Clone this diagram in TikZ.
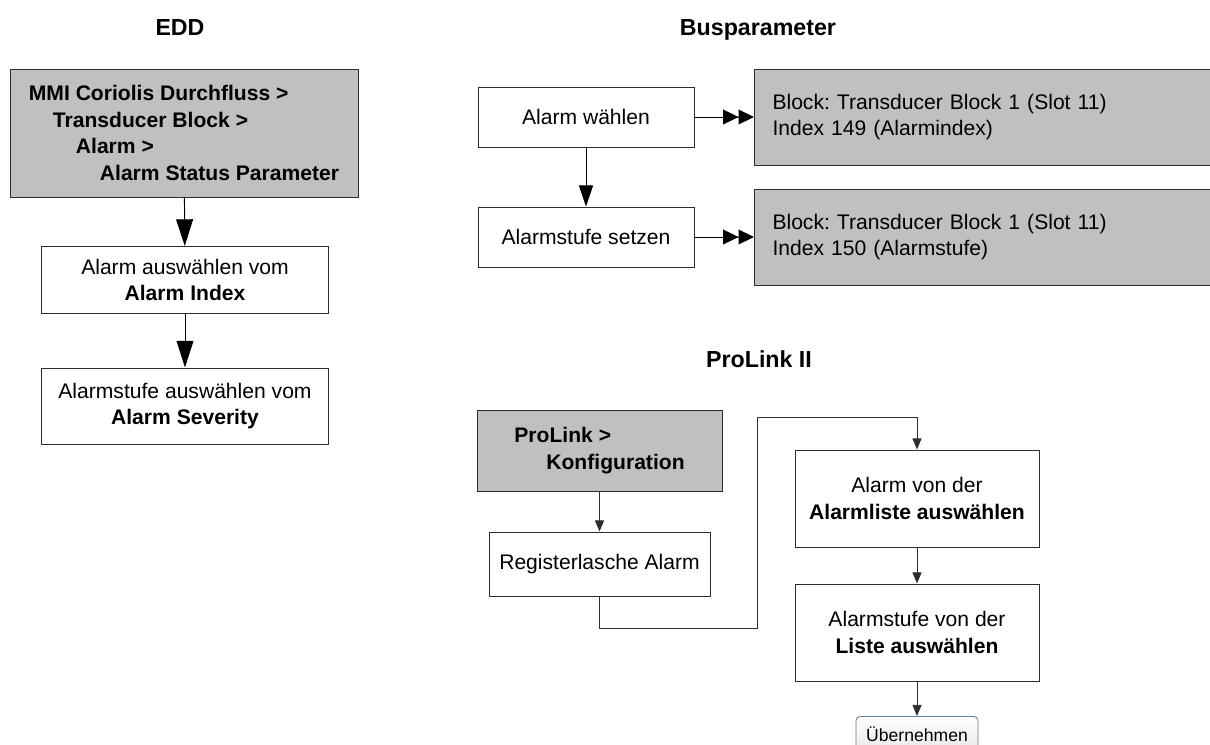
\documentclass[tikz,border=0pt]{standalone}
\usepackage{fontspec}
\setmainfont{Liberation Sans}
\usepackage{xcolor}
\definecolor{boxgray}{RGB}{192,192,192}
\definecolor{lineg}{RGB}{45,45,45}
\definecolor{btnblue}{RGB}{95,125,165}
\definecolor{btnfill}{RGB}{232,232,232}
\newlength\unitpx
\setlength\unitpx{0.025cm}
\usetikzlibrary{arrows.meta}
\frenchspacing

\begin{document}
\begin{tikzpicture}[
  x=0.025cm,y=-0.025cm,
  title/.style={anchor=base,font=\fontsize{16.5}{20}\selectfont\bfseries},
  gbox/.style={rectangle,draw=lineg,line width=0.7pt,fill=boxgray,inner sep=0pt,align=left,font=\fontsize{15}{19}\selectfont},
  wbox/.style={rectangle,draw=lineg,line width=0.7pt,fill=white,inner sep=0pt,align=center,font=\fontsize{15}{19}\selectfont},
  btn/.style={rectangle,rounded corners=3pt,draw=btnblue,line width=0.6pt,top color=white,bottom color=btnfill,inner sep=0pt,font=\fontsize{12.5}{14}\selectfont},
  bigarr/.style={-{Triangle[length=19pt,width=12pt]},line width=0.7pt},
  midarr/.style={-{Triangle[length=15pt,width=10pt]},line width=0.7pt},
  dblarr/.style={-{Triangle[length=11pt,width=10.5pt]Triangle[length=11pt,width=10.5pt]},line width=0.7pt},
  smallarr/.style={-{Triangle[length=8pt,width=6.5pt]},line width=0.7pt,draw=lineg}
]
  \useasboundingbox (0,0) rectangle (1210,744);
  \clip (0,0) rectangle (1210,744);

  % Titles
  \node[title] (tedd) at (180,35) {EDD};
  \node[title] (tbus) at (758,35) {Busparameter};
  \node[title] (tpl) at (759,367) {ProLink II};

  % EDD
  \node[gbox,font=\fontsize{15}{19}\selectfont\bfseries,minimum width=348\unitpx,minimum height=128\unitpx] (edd) at (184,133)
    {MMI Coriolis Durchfluss >\\\hspace*{24\unitpx}Transducer Block >\\\hspace*{47\unitpx}Alarm >\\\hspace*{71\unitpx}Alarm Status Parameter};
  \node[wbox,minimum width=287\unitpx,minimum height=67\unitpx] (idx) at (185,280)
    {Alarm auswählen vom\\\textbf{Alarm Index}};
  \node[wbox,minimum width=287\unitpx,minimum height=76\unitpx] (sev) at (185,406)
    {Alarmstufe auswählen vom\\\textbf{Alarm Severity}};

  \draw[bigarr] (edd) -- (idx);
  \draw[bigarr] (idx) -- (sev);

  % Busparameter
  \node[wbox,minimum width=216\unitpx,minimum height=60\unitpx] (wahl) at (586,117) {Alarm wählen};
  \node[wbox,minimum width=216\unitpx,minimum height=60\unitpx] (setz) at (586,237) {Alarmstufe setzen};
  \node[gbox,anchor=west,text width=440\unitpx,inner xsep=18\unitpx,minimum height=96\unitpx] (blk1) at (754,117)
    {Block: Transducer Block 1 (Slot 11)\\Index 149 (Alarmindex)};
  \node[gbox,anchor=west,text width=440\unitpx,inner xsep=18\unitpx,minimum height=96\unitpx] (blk2) at (754,237)
    {Block: Transducer Block 1 (Slot 11)\\Index 150 (Alarmstufe)};

  \draw[midarr] (wahl) -- (setz);
  \draw[dblarr] (wahl) -- (blk1);
  \draw[dblarr] (setz) -- (blk2);

  % ProLink II
  \node[gbox,font=\fontsize{15}{19}\selectfont\bfseries,minimum width=245\unitpx,minimum height=81\unitpx] (pl) at (599.5,450.5)
    {ProLink >\\\hspace*{32\unitpx}Konfiguration};
  \node[wbox,minimum width=221\unitpx,minimum height=64\unitpx] (reg) at (599.5,564) {Registerlasche Alarm};
  \node[wbox,minimum width=244\unitpx,minimum height=97\unitpx] (alsel) at (917,498.5)
    {Alarm von der\\\textbf{Alarmliste auswählen}};
  \node[wbox,minimum width=244\unitpx,minimum height=97\unitpx] (stsel) at (917,632.5)
    {Alarmstufe von der\\\textbf{Liste auswählen}};
  \node[btn,anchor=north,minimum width=122\unitpx,minimum height=36\unitpx] (ok) at (917,716) {Übernehmen};
  \coordinate (turn) at (757,628);
  \coordinate (top) at (757,417);

  \draw[smallarr] (pl) -- (reg);
  \draw[smallarr] (reg.south) |- (turn) -- (top) -| (alsel.north);
  \draw[smallarr] (alsel) -- (stsel);
  \draw[smallarr] (stsel) -- (ok);
\end{tikzpicture}
\end{document}
